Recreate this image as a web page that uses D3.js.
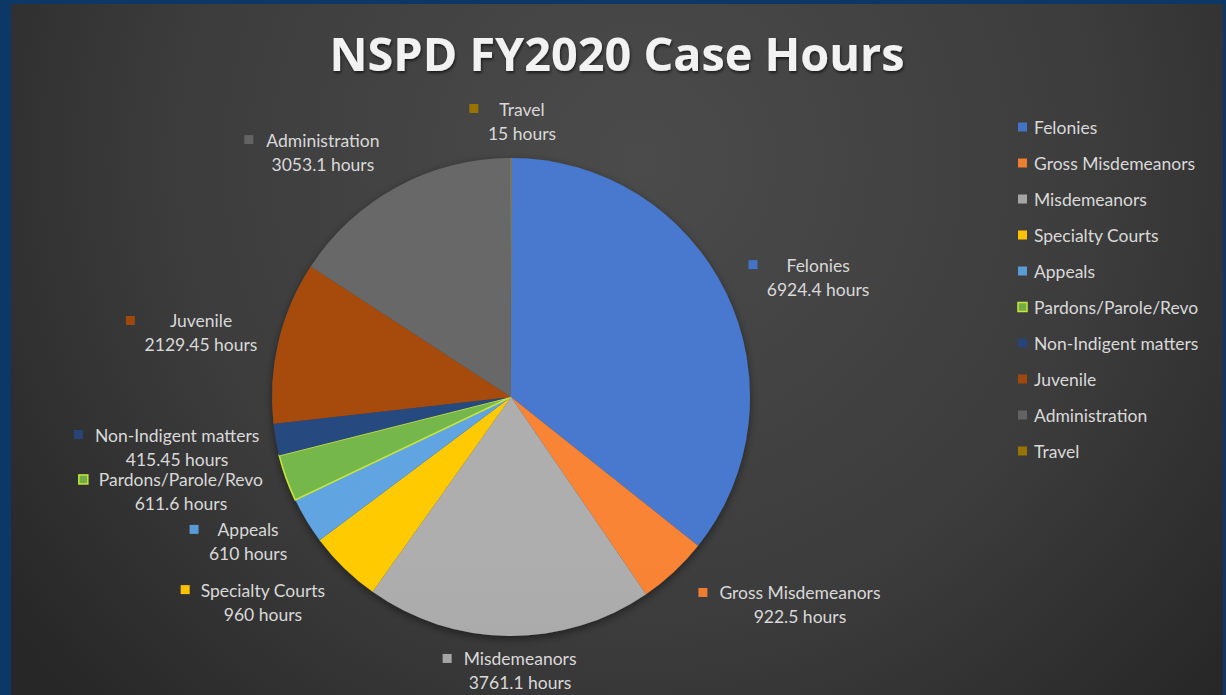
<!DOCTYPE html>
<html>
<head>
<meta charset="utf-8">
<script src="https://cdn.jsdelivr.net/npm/d3@7/dist/d3.min.js"></script>
<style>
  html, body { margin: 0; padding: 0; background: #0c3865; }
  svg { display: block; }
</style>
</head>
<body>
<svg id="chart" width="1226" height="695"></svg>
<script>
// ---- data ----
const categories = ["Felonies", "Gross Misdemeanors", "Misdemeanors", "Specialty Courts", "Appeals",
  "Pardons/Parole/Revo", "Non-Indigent matters", "Juvenile", "Administration", "Travel"];
const hours = [6924.4, 922.5, 3761.1, 960, 610, 611.6, 415.45, 2129.45, 3053.1, 15];
const valueLabels = ["6924.4 hours", "922.5 hours", "3761.1 hours", "960 hours", "610 hours",
  "611.6 hours", "415.45 hours", "2129.45 hours", "3053.1 hours", "15 hours"];
const colors = ["#4472C4", "#ED7D31", "#A5A5A5", "#FFC000", "#5B9BD5",
  "#70AD47", "#264478", "#9E480E", "#636363", "#997300"];
const title = "NSPD FY2020 Case Hours";

// ---- layout (label block offsets relative to pie centre, in units of radius; marker gap px) ----
const labelLayout = [
  [1.285, -0.552, 33], [1.209, 0.820, 16], [0.038, 1.096, 16], [-1.038, 0.808, 15],
  [-1.100, 0.556, 23], [-1.381, 0.347, 15], [-1.397, 0.159, 16], [-1.297, -0.318, 39],
  [-0.787, -1.075, 17], [0.046, -1.205, 25]
];

const W = 1226, H = 695;
const svg = d3.select("#chart");
const defs = svg.append("defs");

// background
svg.append("rect").attr("width", W).attr("height", H).attr("fill", "#0c3865");
const bg = defs.append("radialGradient").attr("id", "bg")
  .attr("gradientUnits", "userSpaceOnUse").attr("cx", 640).attr("cy", 160).attr("r", 780);
bg.append("stop").attr("offset", 0).attr("stop-color", "#4b4b4b");
bg.append("stop").attr("offset", 0.6).attr("stop-color", "#3c3c3c");
bg.append("stop").attr("offset", 1).attr("stop-color", "#272727");
svg.append("rect").attr("x", 11).attr("y", 4).attr("width", 1212).attr("height", H - 4).attr("fill", "url(#bg)");

const labelFont = "Lato, 'Open Sans', sans-serif";
const txtColor = "#d9d9d9";

// fit font size helper
function fitSize(text, family, weight, target, base) {
  const t = svg.append("text").attr("font-family", family).attr("font-weight", weight)
    .attr("font-size", base).text(text);
  const w = t.node().getComputedTextLength();
  t.remove();
  return base * target / w;
}
const lblSize = Math.min(17.5, fitSize("Gross Misdemeanors", labelFont, 400, 164, 16));
const titleSize = fitSize(title, "'Open Sans', sans-serif", 700, 575, 40);

// title
const shadow = defs.append("filter").attr("id", "tshadow").attr("x", -0.1).attr("y", -0.3).attr("width", 1.2).attr("height", 1.6);
shadow.append("feDropShadow").attr("dx", 1).attr("dy", 2).attr("stdDeviation", 1.5)
  .attr("flood-color", "#000").attr("flood-opacity", 0.6);
svg.append("text").attr("x", 617).attr("y", 53).attr("text-anchor", "middle")
  .attr("dominant-baseline", "central")
  .attr("font-family", "'Open Sans', sans-serif").attr("font-weight", 700)
  .attr("font-size", titleSize).attr("fill", "#f2f2f2").attr("filter", "url(#tshadow)")
  .text(title);

// pie
const cx = 511, cy = 397, r = 239;
const pie = d3.pie().sort(null).value(d => d)(hours);
const arc = d3.arc().innerRadius(0).outerRadius(r);

colors.forEach((c, i) => {
  const g = defs.append("linearGradient").attr("id", "sg" + i)
    .attr("gradientUnits", "userSpaceOnUse").attr("x1", 0).attr("y1", cy - r).attr("x2", 0).attr("y2", cy + r);
  g.append("stop").attr("offset", 0).attr("stop-color", d3.color(c).brighter(0.15).formatHex());
  g.append("stop").attr("offset", 1).attr("stop-color", d3.color(c).darker(0.2).formatHex());
});

const pshadow = defs.append("filter").attr("id", "pshadow").attr("x", -0.2).attr("y", -0.2).attr("width", 1.4).attr("height", 1.4);
pshadow.append("feDropShadow").attr("dx", 0).attr("dy", 3).attr("stdDeviation", 4)
  .attr("flood-color", "#000").attr("flood-opacity", 0.45);

const pg = svg.append("g").attr("transform", `translate(${cx},${cy})`).attr("filter", "url(#pshadow)");
pg.selectAll("path").data(pie).join("path")
  .attr("d", arc)
  .attr("fill", (d, i) => `url(#sg${i})`)
  .attr("stroke", (d, i) => i === 5 ? "#c9e43c" : "none")
  .attr("stroke-width", (d, i) => i === 5 ? 1.6 : 0);

// data labels
const lg = svg.append("g").attr("font-family", labelFont).attr("font-size", lblSize).attr("fill", txtColor);
pie.forEach((d, i) => {
  const [fx, fy, gap] = labelLayout[i];
  const x = cx + fx * r, y = cy + fy * r;
  const t1 = lg.append("text").attr("x", x).attr("y", y).attr("text-anchor", "middle")
    .attr("dominant-baseline", "central").text(categories[i]);
  const w = t1.node().getComputedTextLength();
  lg.append("rect").attr("x", x - w / 2 - gap - 5).attr("y", y - 5).attr("width", 9).attr("height", 9)
    .attr("fill", colors[i]).attr("stroke", i === 5 ? "#c9e43c" : "none").attr("stroke-width", 1.5);
  lg.append("text").attr("x", x).attr("y", y + 24).attr("text-anchor", "middle")
    .attr("dominant-baseline", "central").text(valueLabels[i]);
});

// legend
const leg = svg.append("g").attr("font-family", labelFont).attr("font-size", lblSize).attr("fill", txtColor);
const legY = d3.scalePoint().domain(categories).range([127, 451]);
categories.forEach((c, i) => {
  const y = legY(c);
  leg.append("rect").attr("x", 1018).attr("y", y - 4.5).attr("width", 9).attr("height", 9)
    .attr("fill", colors[i]).attr("stroke", i === 5 ? "#c9e43c" : "none").attr("stroke-width", 1.5);
  leg.append("text").attr("x", 1034).attr("y", y).attr("dominant-baseline", "central").text(c);
});
</script>
</body>
</html>
